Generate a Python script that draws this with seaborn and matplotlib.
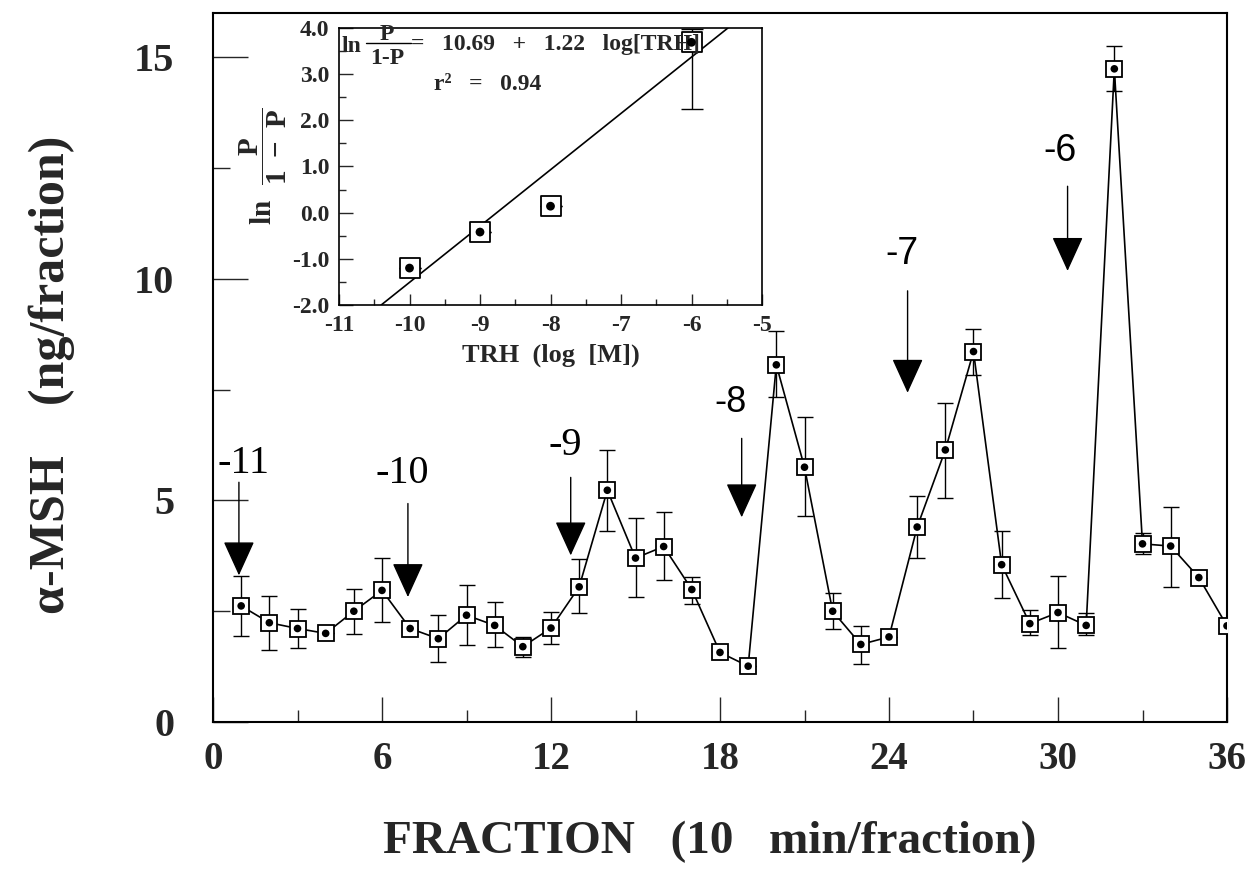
import matplotlib
matplotlib.use("Agg")
import matplotlib.pyplot as plt
import seaborn as sns
import pandas as pd
import numpy as np
from matplotlib.ticker import MultipleLocator

# ---------------- data ----------------
fraction = list(range(1, 37))
msh = [2.62, 2.24, 2.11, 2.00, 2.50, 2.97, 2.11, 1.88, 2.41, 2.18, 1.70, 2.12,
       3.05, 5.23, 3.70, 3.96, 2.99, 1.57, 1.26, 8.06, 5.75, 2.50, 1.75, 1.92,
       4.40, 6.14, 8.36, 3.55, 2.22, 2.47, 2.18, 14.74, 4.02, 3.97, 3.26, 2.17]
msh_low = [1.94, 1.62, 1.66, 2.00, 1.98, 2.26, 2.11, 1.36, 1.73, 1.70, 1.47, 1.76,
           2.45, 4.30, 2.82, 3.20, 2.67, 1.57, 1.26, 7.33, 4.64, 2.09, 1.30, 1.92,
           3.69, 5.05, 7.84, 2.79, 1.96, 1.67, 1.96, 14.23, 3.80, 3.05, 3.26, 2.17]
msh_high = [3.30, 2.84, 2.56, 2.00, 3.00, 3.69, 2.11, 2.41, 3.09, 2.71, 1.92, 2.48,
            3.67, 6.13, 4.60, 4.74, 3.27, 1.57, 1.26, 8.83, 6.88, 2.90, 2.17, 1.92,
            5.09, 7.21, 8.88, 4.32, 2.52, 3.30, 2.45, 15.25, 4.26, 4.86, 3.26, 2.17]

# TRH doses marked by arrows (log M)
dose_labels = ["-11", "-10", "-9", "-8", "-7", "-6"]

# inset data
trh_log = [-10, -9, -8, -6]
ln_ratio = [-1.20, -0.42, 0.14, 3.69]
ln_low = [-1.20, -0.42, 0.14, 2.24]
ln_high = [-1.20, -0.42, 0.14, 3.97]
fit_intercept = 10.69
fit_slope = 1.22
fit_r2 = 0.94

# ---------------- style ----------------
sns.set_theme(style="ticks")
plt.rcParams["font.family"] = ["Liberation Serif", "DejaVu Serif"]
plt.rcParams["axes.unicode_minus"] = False
plt.rcParams["mathtext.fontset"] = "custom"
plt.rcParams["mathtext.rm"] = "Liberation Serif:bold"
plt.rcParams["mathtext.bf"] = "Liberation Serif:bold"
plt.rcParams["mathtext.it"] = "Liberation Serif:bold"

W, H = 1246, 872
fig = plt.figure(figsize=(W / 100, H / 100), dpi=100)
fig.patch.set_facecolor("white")

# main axes pixel box: left 213, right 1227, top 13, bottom 722
ax = fig.add_axes([213 / W, (H - 722) / H, (1227 - 213) / W, (722 - 13) / H])
df = pd.DataFrame({"fraction": fraction, "msh": msh})

lo = np.array(msh) - np.array(msh_low)
hi = np.array(msh_high) - np.array(msh)
ax.errorbar(fraction, msh, yerr=[lo, hi], fmt="none", ecolor="black",
            elinewidth=1.0, capsize=6, capthick=1.0, zorder=2)
sns.lineplot(data=df, x="fraction", y="msh", ax=ax, color="black", lw=1.2,
             marker="s", markersize=12, markerfacecolor="white",
             markeredgecolor="black", markeredgewidth=1.3, zorder=3)
sns.scatterplot(data=df, x="fraction", y="msh", ax=ax, color="black", s=30,
                edgecolor="none", zorder=4)

ax.set_xlim(0, 36)
ax.set_ylim(0, 16)
ax.xaxis.set_major_locator(MultipleLocator(6))
ax.xaxis.set_minor_locator(MultipleLocator(3))
ax.yaxis.set_major_locator(MultipleLocator(5))
ax.yaxis.set_minor_locator(MultipleLocator(2.5))
ax.tick_params(axis="x", which="major", direction="in", length=18, width=1.0,
               pad=14, labelsize=28)
ax.tick_params(axis="x", which="minor", direction="in", length=9, width=1.0)
ax.tick_params(axis="y", which="major", direction="in", length=25, width=1.0,
               pad=28, labelsize=29)
ax.tick_params(axis="y", which="minor", direction="in", length=12, width=1.0)
for lab in ax.get_xticklabels() + ax.get_yticklabels():
    lab.set_fontweight("bold")
for sp in ax.spines.values():
    sp.set_linewidth(1.5)
    sp.set_color("black")

ax.set_xlabel("FRACTION   (10   min/fraction)", fontsize=34, fontweight="bold")
ax.set_ylabel("α-MSH    (ng/fraction)", fontsize=36, fontweight="bold")
ax.xaxis.label.set_va("center")
ax.yaxis.label.set_va("center")
ax.xaxis.set_label_coords(0.49, -0.169)
ax.yaxis.set_label_coords(-0.159, 0.49)

# arrows marking TRH additions
arrow_x = [0.92, 6.92, 12.7, 18.77, 24.66, 30.34]
arrow_start = [5.41, 4.93, 5.52, 6.40, 9.73, 12.09]
arrow_tip = [3.31, 2.82, 3.76, 4.62, 7.43, 10.18]
label_x = [1.10, 6.71, 12.5, 18.39, 24.46, 30.07]
label_y = [5.83, 5.61, 6.24, 7.21, 10.56, 12.88]
label_family = ["Liberation Serif"] * 3 + ["Liberation Sans"] * 3
label_size = [29, 29, 29, 26, 27, 27]
for lab, xa, ys, yt, lx, ly, fam, fs in zip(dose_labels, arrow_x, arrow_start,
                                            arrow_tip, label_x, label_y,
                                            label_family, label_size):
    ax.annotate("", xy=(xa, yt), xytext=(xa, ys),
                arrowprops=dict(arrowstyle="-|>,head_length=22,head_width=10",
                                mutation_scale=1, color="black", lw=1.0,
                                shrinkA=0, shrinkB=0))
    ax.text(lx, ly, lab, fontsize=fs, family=fam, ha="center", va="center",
            color="black")

# ---------------- inset ----------------
axi = fig.add_axes([339 / W, (H - 305) / H, (762 - 339) / W, (305 - 28) / H])
axi.set_facecolor("white")
dfi = pd.DataFrame({"trh": trh_log, "ln": ln_ratio})
ilo = np.array(ln_ratio) - np.array(ln_low)
ihi = np.array(ln_high) - np.array(ln_ratio)
axi.errorbar(trh_log, ln_ratio, yerr=[ilo, ihi], fmt="none", ecolor="black",
             elinewidth=1.0, capsize=8, capthick=1.0, zorder=2)
sns.scatterplot(data=dfi, x="trh", y="ln", ax=axi, marker="s", s=200,
                facecolor="white", edgecolor="black", linewidth=1.3, zorder=3)
sns.scatterplot(data=dfi, x="trh", y="ln", ax=axi, color="black", s=40,
                edgecolor="none", zorder=4)
axi.axline((0, fit_intercept), slope=fit_slope, color="black", lw=1.2, zorder=1)
axi.set_xlim(-11, -5)
axi.set_ylim(-2, 4)
axi.xaxis.set_major_locator(MultipleLocator(1))
axi.xaxis.set_minor_locator(MultipleLocator(0.5))
axi.yaxis.set_major_locator(MultipleLocator(1))
axi.yaxis.set_minor_locator(MultipleLocator(0.5))
axi.set_yticks(np.arange(-2, 4.01, 1.0))
axi.set_yticklabels([f"{v:.1f}" for v in np.arange(-2, 4.01, 1.0)])
axi.tick_params(axis="both", which="major", direction="in", labelsize=17, pad=7)
axi.tick_params(axis="x", which="major", length=8, width=1.0)
axi.tick_params(axis="x", which="minor", direction="in", length=4, width=1.0)
axi.tick_params(axis="y", which="major", length=10, width=1.0)
axi.tick_params(axis="y", which="minor", direction="in", length=5, width=1.0)
for lab in axi.get_xticklabels() + axi.get_yticklabels():
    lab.set_fontweight("bold")
for sp in axi.spines.values():
    sp.set_linewidth(1.2)
    sp.set_color("black")
axi.set_xlabel("TRH  (log  [M])", fontsize=19, fontweight="bold", labelpad=6)
axi.set_ylabel(r"$\mathbf{ln}\ \ \dfrac{\mathbf{P}}{\mathbf{1\ -\ P}}$",
               fontsize=21, labelpad=2)

axi.text(-10.97, 3.60, "ln", fontsize=17, fontweight="bold", ha="left", va="center")
axi.text(-10.32, 3.86, "P", fontsize=17, fontweight="bold", ha="center", va="center")
axi.plot([-10.62, -9.98], [3.67, 3.67], color="black", lw=1.0)
axi.text(-10.32, 3.34, "1-P", fontsize=17, fontweight="bold", ha="center", va="center")
axi.text(-9.98, 3.64, "=   10.69   +   1.22   log[TRH]", fontsize=17,
         fontweight="bold", ha="left", va="center")
axi.text(-9.65, 2.78, f"r²   =   {fit_r2:.2f}", fontsize=17, fontweight="bold",
         ha="left", va="center")

fig.savefig("out.png", dpi=100, facecolor="white")
